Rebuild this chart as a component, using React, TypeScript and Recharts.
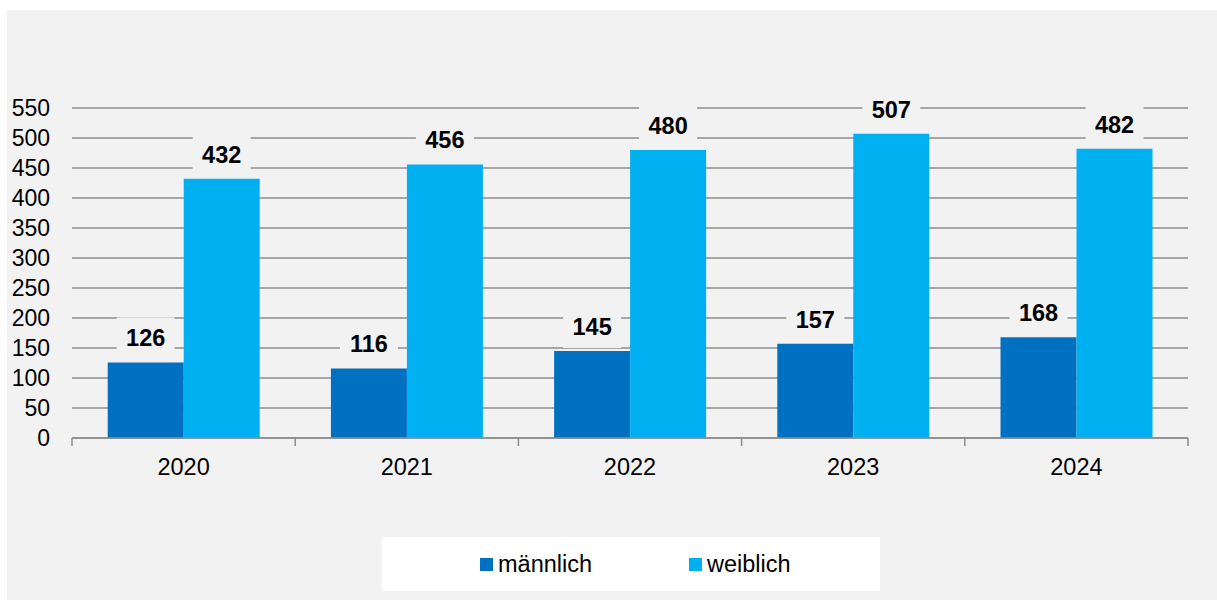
import { BarChart, Bar, XAxis, YAxis, CartesianGrid, LabelList } from "recharts";

const years = ["2020", "2021", "2022", "2023", "2024"];
const maennlich = [126, 116, 145, 157, 168];
const weiblich = [432, 456, 480, 507, 482];
const yTicks = [0, 50, 100, 150, 200, 250, 300, 350, 400, 450, 500, 550];

const SERIES = [
  { key: "maennlich", name: "männlich", color: "#0070c0" },
  { key: "weiblich", name: "weiblich", color: "#00b0f0" },
];

const BG = "#f2f2f2";
const GRID = "#8c8c8c";
const FONT = "Arial, 'Liberation Sans', sans-serif";

const data = years.map((year, i) => ({
  year,
  maennlich: maennlich[i],
  weiblich: weiblich[i],
}));

function ValueLabel(props: any) {
  const { x, y, width, value } = props;
  const cx = x + width / 2;
  const cy = y - 24;
  return (
    <g>
      <rect x={cx - 29} y={cy - 21} width={58} height={42} fill={BG} />
      <text
        x={cx}
        y={cy + 8}
        textAnchor="middle"
        fontFamily={FONT}
        fontWeight="bold"
        fontSize={23.5}
        fill="#000"
      >
        {value}
      </text>
    </g>
  );
}

function YearTick(props: any) {
  const { x, y, payload, index } = props;
  const half = payload.offset || 0;
  return (
    <g>
      <line x1={x - half} x2={x - half} y1={y} y2={y + 8} stroke={GRID} strokeWidth={1.5} />
      {index === years.length - 1 && (
        <line x1={x + half} x2={x + half} y1={y} y2={y + 8} stroke={GRID} strokeWidth={1.5} />
      )}
      <text x={x} y={y + 37} textAnchor="middle" fontFamily={FONT} fontSize={23.5} fill="#000">
        {payload.value}
      </text>
    </g>
  );
}

export default function App() {
  return (
    <div
      style={{
        position: "absolute",
        left: 0,
        top: 0,
        width: 1217,
        height: 600,
        background: "#fff",
        fontFamily: FONT,
      }}
    >
      <div style={{ position: "absolute", left: 7, top: 10, width: 1210, height: 590, background: BG }} />
      <div style={{ position: "absolute", left: 0, top: 0 }}>
        <BarChart
          width={1217}
          height={600}
          data={data}
          margin={{ top: 108, right: 29, bottom: 0, left: 0 }}
          barCategoryGap="16%"
          barGap={0}
        >
          <CartesianGrid vertical={false} stroke={GRID} strokeWidth={1.5} />
          <XAxis
            dataKey="year"
            height={162}
            tickSize={0}
            tickMargin={0}
            tickLine={false}
            axisLine={{ stroke: GRID, strokeWidth: 1.5 }}
            tick={<YearTick />}
            interval={0}
          />
          <YAxis
            width={72}
            domain={[0, 550]}
            ticks={yTicks}
            interval={0}
            tickSize={0}
            tickMargin={22}
            axisLine={false}
            tickLine={false}
            tick={{ fill: "#000", fontSize: 23, fontFamily: FONT }}
          />
          {SERIES.map((s) => (
            <Bar key={s.key} dataKey={s.key} name={s.name} fill={s.color} isAnimationActive={false}>
              <LabelList dataKey={s.key} content={<ValueLabel />} />
            </Bar>
          ))}
        </BarChart>
      </div>
      <div
        style={{
          position: "absolute",
          left: 382,
          top: 537,
          width: 498,
          height: 54,
          background: "#fff",
        }}
      >
        {SERIES.map((s, i) => (
          <div
            key={s.key}
            style={{
              position: "absolute",
              left: i === 0 ? 98 : 307,
              top: 0,
              height: 54,
              display: "flex",
              alignItems: "center",
              fontSize: 23.5,
              color: "#000",
            }}
          >
            <span style={{ display: "inline-block", width: 13, height: 13, background: s.color, marginRight: 5 }} />
            <span>{s.name}</span>
          </div>
        ))}
      </div>
    </div>
  );
}
